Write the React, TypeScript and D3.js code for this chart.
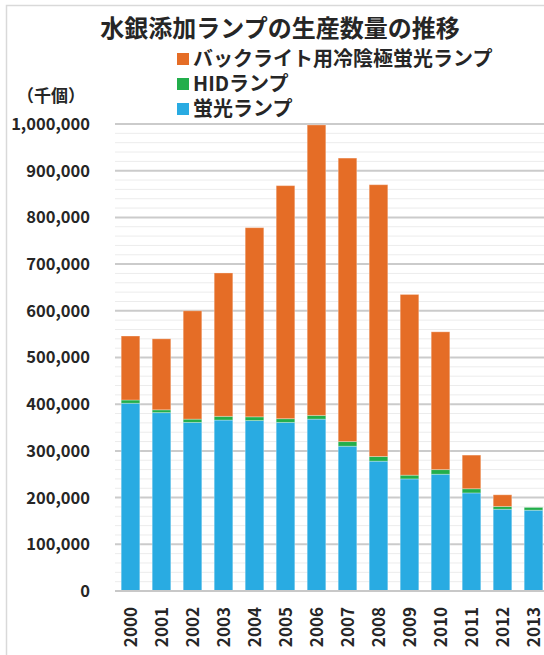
import React from "react";
import * as d3 from "d3";

const years = ["2000", "2001", "2002", "2003", "2004", "2005", "2006", "2007", "2008", "2009", "2010", "2011", "2012", "2013"];
const fluorescent = [402000, 382000, 361000, 366000, 365000, 361000, 368000, 310000, 278000, 240000, 250000, 210000, 175000, 173000];
const hid = [7000, 6000, 7000, 8000, 8000, 8000, 8000, 10000, 10000, 8000, 10000, 9000, 6000, 6000];
const ccfl = [137000, 152000, 232000, 307000, 405000, 499000, 622000, 607000, 582000, 387000, 295000, 72000, 25000, 0];

const seriesNames = ["蛍光ランプ", "HIDランプ", "バックライト用冷陰極蛍光ランプ"];
const seriesColors = ["#29abe2", "#22ae4b", "#e56d26"];
const legendOrder = [2, 1, 0];
const yTicks = d3.range(0, 1000001, 100000);
const yMinor = d3.range(0, 1000001, 20000);

const font = "'Noto Sans CJK JP', 'Noto Sans', sans-serif";

const App = () => {
  const width = 544,
    height = 655;

  const x = d3.scaleBand().domain(years).range([115, 549]).paddingInner(0.4).paddingOuter(0.2);
  const y = d3.scaleLinear().domain([0, 1000000]).range([591, 124]);

  const table = years.map((yr, i) => ({ year: yr, s0: fluorescent[i], s1: hid[i], s2: ccfl[i] }));
  const stack = d3.stack<any>().keys(["s0", "s1", "s2"]);
  const layers = stack(table);

  return (
    <div style={{ position: "absolute", left: 0, top: 0 }}>
      <svg width={width} height={height} style={{ display: "block", background: "#fff" }}>
        <rect x={6.5} y={5.5} width={width} height={height} fill="#fff" stroke="#d9d9d9" strokeWidth={1.5} />
        <text x={280} y={37} textAnchor="middle" fontFamily={font} fontWeight="bold" fontSize={24} fill="#262626">
          水銀添加ランプの生産数量の推移
        </text>

        {legendOrder.map((s, k) => (
          <g key={s} transform={`translate(177,${59 + k * 25})`}>
            <rect x={0} y={-6} width={12} height={12} fill={seriesColors[s]} />
            <text x={16} y={0} dy="0.36em" fontFamily={font} fontWeight="bold" fontSize={20} fill="#262626">
              {seriesNames[s]}
            </text>
          </g>
        ))}

        <text x={51} y={96} dy="0.36em" textAnchor="middle" fontFamily={font} fontWeight="bold" fontSize={17} fill="#262626">
          （千個）
        </text>

        {yMinor
          .filter((v) => v % 100000 !== 0)
          .map((v) => (
            <line key={"m" + v} x1={115} x2={width} y1={y(v)} y2={y(v)} stroke="#ececec" strokeWidth={1} />
          ))}
        {yTicks.map((v) => (
          <line key={"g" + v} x1={115} x2={width} y1={y(v)} y2={y(v)} stroke={v === 0 ? "#c8c8c8" : "#cbcbcb"} strokeWidth={2} />
        ))}
        {yTicks.map((v) => (
          <text key={"t" + v} x={90} y={y(v)} dy="0.36em" textAnchor="end" fontFamily={font} fontWeight="bold" fontSize={16.5} fill="#262626">
            {d3.format(",")(v)}
          </text>
        ))}

        {layers.map((layer, li) => (
          <g key={li} fill={seriesColors[li]}>
            {layer.map((d, i) =>
              d[1] - d[0] > 0 ? (
                <rect
                  key={i}
                  x={x(years[i])}
                  y={y(d[1])}
                  width={x.bandwidth()}
                  height={y(d[0]) - y(d[1])}
                  stroke="#ffffff"
                  strokeOpacity={0.3}
                  strokeWidth={1}
                />
              ) : null
            )}
          </g>
        ))}
        <line x1={115} x2={width} y1={y(0)} y2={y(0)} stroke="#c8c8c8" strokeWidth={2} />

        {years.map((yr) => {
          const cx = (x(yr) as number) + x.bandwidth() / 2;
          return (
            <text
              key={yr}
              transform={`translate(${cx},607) rotate(-90)`}
              dy="0.36em"
              textAnchor="end"
              fontFamily={font}
              fontWeight="bold"
              fontSize={17}
              fill="#262626"
            >
              {yr}
            </text>
          );
        })}
      </svg>
    </div>
  );
};

export default App;
